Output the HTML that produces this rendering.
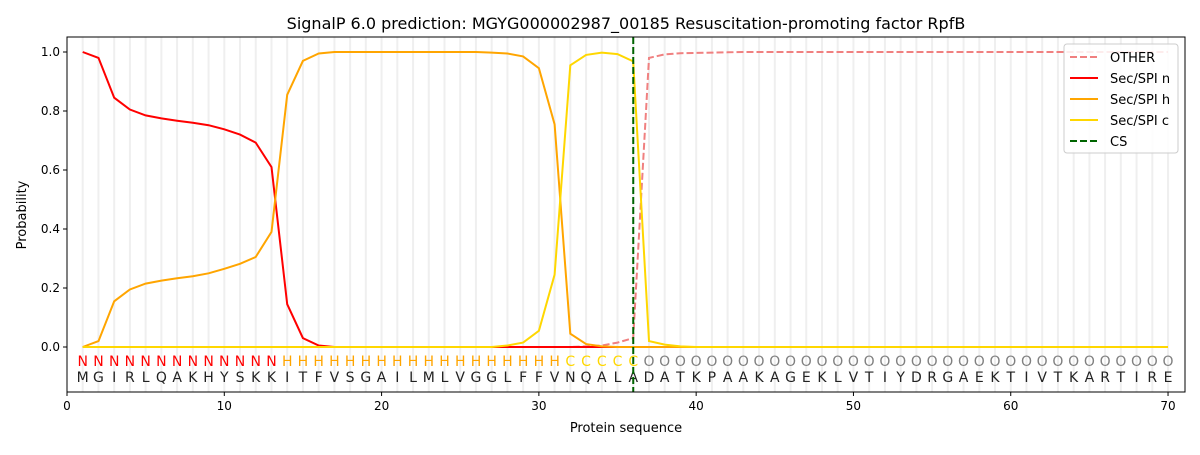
<!DOCTYPE html>
<html><head><meta charset="utf-8"><style>
body{margin:0;background:#fff;}
svg text{font-family:"DejaVu Sans","Liberation Sans",sans-serif;}
</style></head><body>
<svg id="s" width="1200" height="450" xmlns="http://www.w3.org/2000/svg"></svg>
<script>
const X=v=>67+v*15.729, Y=p=>347-295*p;
let h='';
h+='<rect x="0" y="0" width="1200" height="450" fill="#fff"/>';
for(let i=1;i<=70;i++) h+=`<line x1="${X(i)}" x2="${X(i)}" y1="37" y2="392" stroke="#efefef" stroke-width="2"/>`;
const seq="MGIRLQAKHYSKKITFVSGAILMLVGGLFFVNQALADATKPAAKAGEKLVTIYDRGAEKTIVTKARTIRE";
for(let i=1;i<=70;i++){
 let lab,c; if(i<=13){lab='N';c='#ff0000'}else if(i<=31){lab='H';c='#ffa500'}else if(i<=36){lab='C';c='#ffd700'}else{lab='O';c='#808080'}
 h+=`<text x="${X(i)}" y="366" font-size="14" text-anchor="middle" fill="${c}">${lab}</text>`;
 h+=`<text x="${X(i)}" y="382" font-size="14" text-anchor="middle" fill="#222">${seq[i-1]}</text>`;
}
function arr(m,def){let a=[];for(let i=1;i<=70;i++)a.push(m[i]!==undefined?m[i]:(typeof def=='function'?def(i):def));return a;}
const n=arr({1:1,2:.98,3:.845,4:.805,5:.785,6:.775,7:.767,8:.76,9:.752,10:.738,11:.72,12:.693,13:.61,14:.145,15:.03,16:.005},0);
const hh=arr({1:0,2:.02,3:.155,4:.195,5:.215,6:.225,7:.233,8:.24,9:.25,10:.265,11:.282,12:.305,13:.39,14:.855,15:.97,16:.995,27:.998,28:.995,29:.985,30:.945,31:.755,32:.045,33:.01,34:.002},i=>(i>16&&i<27)?1:0);
const c=arr({28:.005,29:.015,30:.055,31:.245,32:.955,33:.99,34:.998,35:.993,36:.968,37:.02,38:.008,39:.002},0);
const o=arr({33:.002,34:.005,35:.015,36:.03,37:.98,38:.992,39:.996,40:.997,41:.998,42:.999},i=>i>42?1:0);
const pl=(a,col,extra)=>`<polyline fill="none" stroke="${col}" stroke-width="2" ${extra||''} points="${a.map((v,i)=>X(i+1).toFixed(1)+','+Y(v).toFixed(1)).join(' ')}"/>`;
h+=pl(o,'#f08080','stroke-dasharray="7,3"');
h+=pl(n,'#ff0000');h+=pl(hh,'#ffa500');h+=pl(c,'#ffd700');
h+=`<line x1="${X(36)}" x2="${X(36)}" y1="37" y2="392" stroke="#006400" stroke-width="2" stroke-dasharray="7,3"/>`;
h+='<rect x="67" y="37" width="1118" height="355" fill="none" stroke="#000" stroke-width="1"/>';
for(let v=0;v<=70;v+=10){h+=`<line x1="${X(v)}" x2="${X(v)}" y1="392" y2="396" stroke="#000"/><text x="${X(v)}" y="410" font-size="12" text-anchor="middle">${v}</text>`;}
for(let k=0;k<=5;k++){let p=k*0.2;h+=`<line x1="63" x2="67" y1="${Y(p)}" y2="${Y(p)}" stroke="#000"/><text x="60" y="${Y(p)+4}" font-size="12" text-anchor="end">${p.toFixed(1)}</text>`;}
h+='<text x="626" y="432" font-size="13" text-anchor="middle">Protein sequence</text>';
h+='<text x="26" y="215" font-size="13" text-anchor="middle" transform="rotate(-90 26 215)">Probability</text>';
h+='<text x="626" y="29" font-size="16" text-anchor="middle">SignalP 6.0 prediction: MGYG000002987_00185 Resuscitation-promoting factor RpfB</text>';
h+='<rect x="1064" y="44" width="114" height="109" rx="3" fill="#fff" fill-opacity="0.85" stroke="#ccc"/>';
const lg=[['OTHER','#f08080',1],['Sec/SPI n','#ff0000',0],['Sec/SPI h','#ffa500',0],['Sec/SPI c','#ffd700',0],['CS','#006400',1]];
lg.forEach((l,i)=>{let y=57+i*21;h+=`<line x1="1070" x2="1098" y1="${y}" y2="${y}" stroke="${l[1]}" stroke-width="2" ${l[2]?'stroke-dasharray="7,3"':''}/><text x="1110" y="${y+5}" font-size="13">${l[0]}</text>`;});
document.getElementById('s').innerHTML=h;
</script>
</body></html>
